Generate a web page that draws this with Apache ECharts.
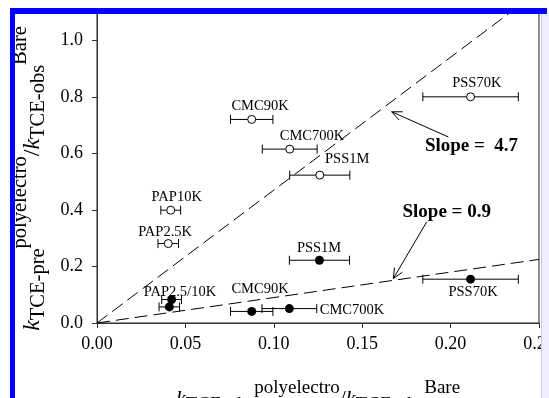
<!DOCTYPE html>
<html>
<head>
<meta charset="utf-8">
<script src="https://cdn.jsdelivr.net/npm/echarts@6/dist/echarts.min.js"></script>
<style>
html,body{margin:0;padding:0;background:#fff;}
#chart{width:549px;height:398px;}
</style>
</head>
<body>
<div id="chart"></div>
<script>
// ---- data ----
const openNames = ['CMC90K', 'CMC700K', 'PSS1M', 'PAP10K', 'PAP2.5K', 'PSS70K'];
const openX     = [0.0875, 0.109, 0.126, 0.0417, 0.0403, 0.2113];
const openY     = [0.72, 0.615, 0.523, 0.399, 0.281, 0.80];
const openXErr  = [0.012, 0.0155, 0.017, 0.0056, 0.0058, 0.027];

const filledNames = ['CMC90K', 'CMC700K', 'PSS1M', 'PAP2.5K', 'PAP10K', 'PSS70K'];
const filledX     = [0.0875, 0.1088, 0.1258, 0.0409, 0.0422, 0.2113];
const filledY     = [0.041, 0.051, 0.222, 0.057, 0.083, 0.155];
const filledXErr  = [0.012, 0.0155, 0.017, 0.0058, 0.0056, 0.027];

const slopes = [4.7, 0.9];

const xTicks = [0, 0.05, 0.10, 0.15, 0.20, 0.25];
const yTicks = [0, 0.2, 0.4, 0.6, 0.8, 1.0];

// annotation texts anchored in data coordinates
const labelText = ['CMC90K', 'CMC700K', 'PSS1M', 'PAP10K', 'PAP2.5K', 'PSS70K',
                   'PAP2.5/10K', 'CMC90K', 'PSS1M', 'CMC700K', 'PSS70K'];
const labelX    = [0.0922, 0.1216, 0.1415, 0.0451, 0.0385, 0.2148,
                   0.0469, 0.0922, 0.1256, 0.1442, 0.2127];
const labelY    = [0.767, 0.662, 0.578, 0.444, 0.322, 0.847,
                   0.110, 0.118, 0.264, 0.047, 0.108];

const slopeText = ['Slope =  4.7', 'Slope = 0.9'];
const slopeTextX = [0.2118, 0.1978];
const slopeTextY = [0.625, 0.393];

const arrowFromX = [0.1987, 0.1865];
const arrowFromY = [0.658, 0.358];
const arrowToX   = [0.1667, 0.1676];
const arrowToY   = [0.747, 0.157];

// ---- build ----
const FONT = '"Liberation Serif", "Times New Roman", serif';
const X_MAX = 0.25, Y_MAX = 1.1;

function zip3(a, b, c) { return a.map((v, i) => [v, b[i], c[i]]); }

function errBarRender(params, api) {
  const x = api.value(0), y = api.value(1), e = api.value(2);
  const lo = api.coord([x - e, y]);
  const hi = api.coord([x + e, y]);
  const c = 4.5;
  const st = { stroke: '#000', lineWidth: 1 };
  return {
    type: 'group',
    children: [
      { type: 'line', shape: { x1: lo[0], y1: lo[1], x2: hi[0], y2: hi[1] }, style: st },
      { type: 'line', shape: { x1: lo[0], y1: lo[1] - c, x2: lo[0], y2: lo[1] + c }, style: st },
      { type: 'line', shape: { x1: hi[0], y1: hi[1] - c, x2: hi[0], y2: hi[1] + c }, style: st }
    ]
  };
}

function makeTextRender(bold, size) {
  return function (params, api) {
    const p = api.coord([api.value(0), api.value(1)]);
    return {
      type: 'text',
      x: p[0], y: p[1],
      style: {
        text: api.value(2),
        fill: '#000',
        font: (bold ? 'bold ' : '') + size + 'px ' + FONT,
        align: 'center',
        verticalAlign: 'middle'
      }
    };
  };
}

function arrowRender(params, api) {
  const a = api.coord([api.value(0), api.value(1)]);
  const b = api.coord([api.value(2), api.value(3)]);
  const ang = Math.atan2(b[1] - a[1], b[0] - a[0]);
  const L = 11, w = 0.42;
  const h1 = [b[0] - L * Math.cos(ang - w), b[1] - L * Math.sin(ang - w)];
  const h2 = [b[0] - L * Math.cos(ang + w), b[1] - L * Math.sin(ang + w)];
  const st = { stroke: '#000', lineWidth: 1, fill: null };
  return {
    type: 'group',
    children: [
      { type: 'line', shape: { x1: a[0], y1: a[1], x2: b[0], y2: b[1] }, style: st },
      { type: 'polyline', shape: { points: [h1, b, h2] }, style: st }
    ]
  };
}

const slopeSeries = slopes.map(s => {
  const xe = Math.min(X_MAX, Y_MAX / s);
  return {
    type: 'line',
    data: [[0, 0], [xe, s * xe]],
    symbol: 'none',
    silent: true,
    lineStyle: { color: '#000', width: 1, type: [13, 6] },
    z: 1
  };
});

function titleRich(main, small, supPad, subPad) {
  return {
    k:   { fontFamily: FONT, fontSize: main, fontStyle: 'italic', color: '#000', verticalAlign: 'middle' },
    n:   { fontFamily: FONT, fontSize: main, color: '#000', verticalAlign: 'middle' },
    sub: { fontFamily: FONT, fontSize: small, color: '#000', verticalAlign: 'middle', padding: [subPad, 0, 0, 0] },
    sup: { fontFamily: FONT, fontSize: small, color: '#000', verticalAlign: 'middle', padding: [0, 0, supPad, 0] }
  };
}

const chart = echarts.init(document.getElementById('chart'), null, { renderer: 'canvas' });
chart.setOption({
  animation: false,
  backgroundColor: '#fff',
  grid: { left: 97, right: 10, top: 12, bottom: 75, outerBoundsMode: 'none', containLabel: false,
          show: true, borderColor: '#222', borderWidth: 1, backgroundColor: 'transparent' },
  xAxis: {
    type: 'value', min: xTicks[0], max: X_MAX, interval: 0.05,
    splitLine: { show: false },
    axisLine: { lineStyle: { color: '#333', width: 1 } },
    axisTick: { show: true, inside: false, length: 5, lineStyle: { color: '#333' } },
    axisLabel: { color: '#000', fontFamily: FONT, fontSize: 18, margin: 12,
      formatter: v => v.toFixed(2) },
    name: '{k|k}{sub|TCE-obs}{sup|polyelectro}{n|/}{k|k}{sub|TCE-obs}{sup|Bare}',
    nameLocation: 'middle', nameGap: 56,
    nameTextStyle: { rich: titleRich(22, 19, 22, 12) }
  },
  yAxis: {
    type: 'value', min: yTicks[0], max: Y_MAX, interval: 0.2,
    splitLine: { show: false },
    axisLine: { lineStyle: { color: '#333', width: 1 } },
    axisTick: { show: true, inside: false, length: 5, lineStyle: { color: '#333' } },
    axisLabel: { color: '#000', fontFamily: FONT, fontSize: 18, margin: 14, showMaxLabel: false,
      formatter: v => (yTicks.some(t => Math.abs(t - v) < 1e-9) ? v.toFixed(1) : '') },
    name: '{k|k}{sub|TCE-pre}{sup|polyelectro}{n|/}{k|k}{sub|TCE-obs}{sup|Bare}',
    nameLocation: 'middle', nameGap: 40, nameRotate: 90,
    nameTextStyle: { rich: titleRich(24, 20.5, 24, 12), padding: [0, 22, 0, 0] }
  },
  series: [
    ...slopeSeries,
    { type: 'custom', renderItem: errBarRender, data: zip3(openX, openY, openXErr), encode: { x: 0, y: 1 }, z: 2, silent: true },
    { type: 'custom', renderItem: errBarRender, data: zip3(filledX, filledY, filledXErr), encode: { x: 0, y: 1 }, z: 2, silent: true },
    { type: 'scatter', data: openX.map((x, i) => [x, openY[i]]), symbol: 'circle', symbolSize: 8,
      itemStyle: { color: '#fff', borderColor: '#000', borderWidth: 1, opacity: 1 }, z: 3 },
    { type: 'scatter', data: filledX.map((x, i) => [x, filledY[i]]), symbol: 'circle', symbolSize: 9,
      itemStyle: { color: '#000', opacity: 1 }, z: 3 },
    { type: 'custom', renderItem: makeTextRender(false, 14.5), data: labelX.map((x, i) => [x, labelY[i], labelText[i]]),
      encode: { x: 0, y: 1 }, z: 4, silent: true },
    { type: 'custom', renderItem: makeTextRender(true, 19), data: slopeTextX.map((x, i) => [x, slopeTextY[i], slopeText[i]]),
      encode: { x: 0, y: 1 }, z: 4, silent: true },
    { type: 'custom', renderItem: arrowRender, data: arrowFromX.map((x, i) => [x, arrowFromY[i], arrowToX[i], arrowToY[i]]),
      encode: { x: [0, 2], y: [1, 3] }, z: 4, silent: true }
  ],
  graphic: [
    { type: 'rect', z: 100, shape: { x: 542, y: 14, width: 7, height: 384 }, style: { fill: '#eeeeff' } },
    { type: 'line', z: 101, shape: { x1: 541.5, y1: 14, x2: 541.5, y2: 398 }, style: { stroke: '#c8c8f4', lineWidth: 1 } },
    { type: 'rect', z: 102, shape: { x: 10, y: 8, width: 537, height: 6 }, style: { fill: '#0000ff' } },
    { type: 'rect', z: 102, shape: { x: 10, y: 8, width: 5, height: 390 }, style: { fill: '#0000ff' } }
  ]
});
</script>
</body>
</html>
